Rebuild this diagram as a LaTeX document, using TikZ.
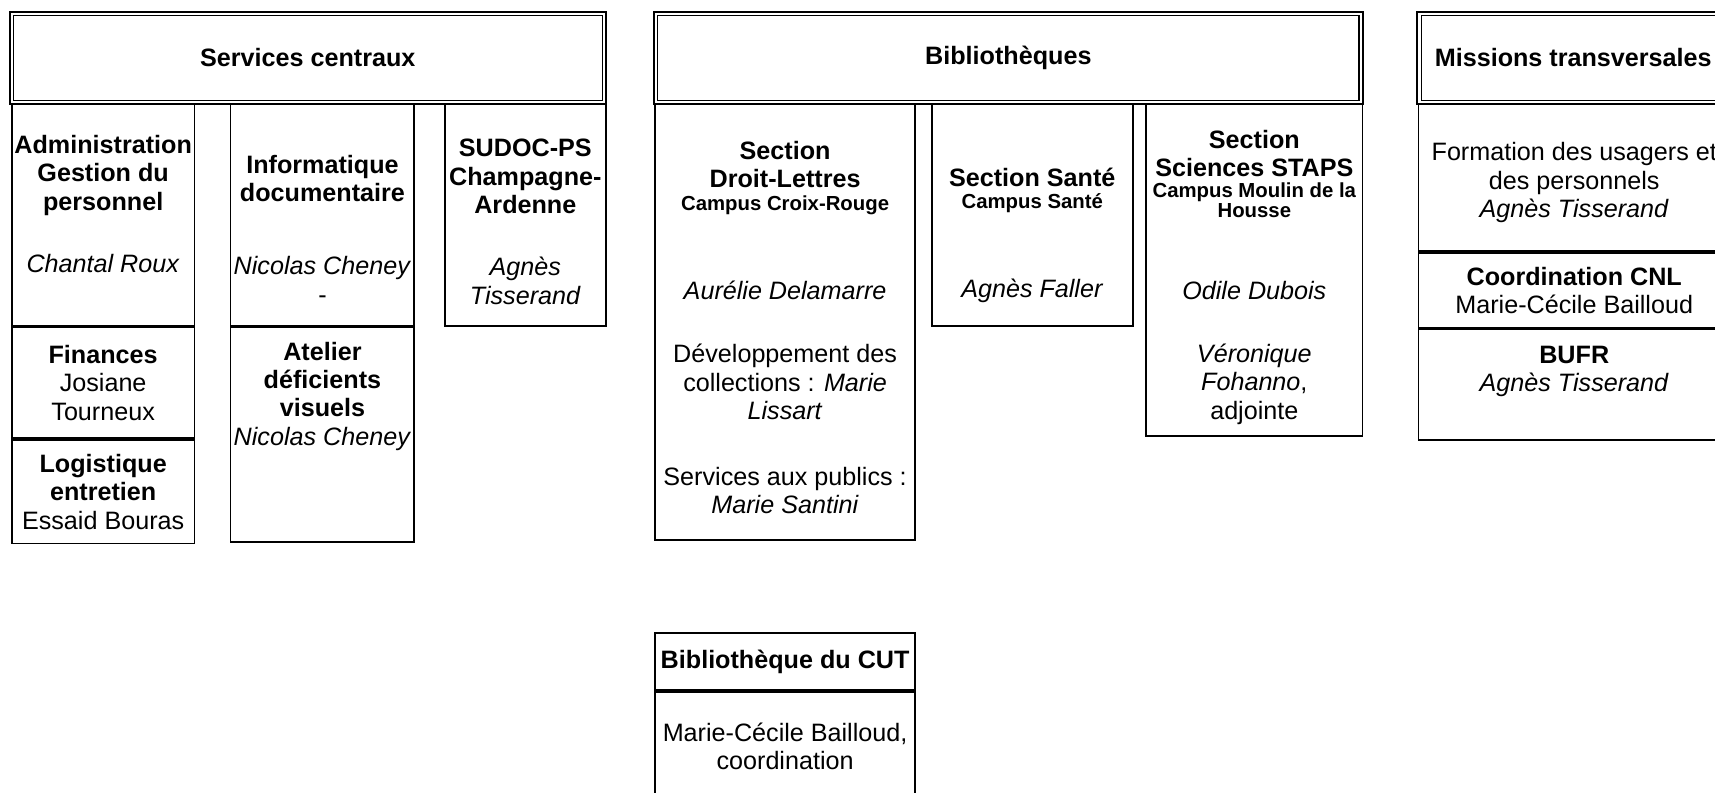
\documentclass[tikz,border=0pt]{standalone}
\usepackage{fontspec}
\setmainfont{Liberation Sans}
\usetikzlibrary{positioning}

\newcommand{\campus}[1]{{\fontsize{9.3}{10}\selectfont\bfseries #1}}
\newcommand{\padtop}[1]{\rule{0pt}{#1}}
\newcommand{\padbot}[1]{\rule[-#1]{0pt}{0pt}}

\begin{document}
\begin{tikzpicture}[
    x=0.5pt, y=-0.5pt,
    node distance=0pt,
    font=\fontsize{11.5}{13}\selectfont,
    dims/.style 2 args={minimum width=#1*0.5pt, minimum height=#2*0.5pt},
    head/.style={rectangle, draw, line width=0.9pt, anchor=north west, align=center, inner sep=0pt, font=\fontsize{11.5}{13}\selectfont\bfseries,
        path picture={\draw[line width=0.5pt] ([shift={(1.7pt,-1.7pt)}]path picture bounding box.north west) rectangle ([shift={(-1.7pt,1.7pt)}]path picture bounding box.south east);}},
    cell/.style={rectangle, draw, line width=0.8pt, anchor=north west, align=center, inner sep=0pt}
]
\useasboundingbox (0,0) rectangle (1568,725);
\clip (0,0) rectangle (1568,725);

% Headers
\node[head, dims={545}{84}] (central) at (8,10) {Services centraux};
\node[head, dims={648}{84}] (biblio) at (597,10) {Bibliothèques};
\node[head, dims={285}{84}] (missions) at (1295,10) {Missions transversales};

% Services centraux
\node[cell, dims={167}{203}] (admin) at (10,94) {\textbf{Administration}\\\textbf{Gestion du}\\\textbf{personnel}\\[15.5pt]\textit{Chantal Roux}\padbot{10pt}};
\node[cell, dims={167}{101}, below=of admin] (finances) {\textbf{Finances}\\Josiane\\Tourneux};
\node[cell, dims={167}{95}, below=of finances] (logistique) {\textbf{Logistique}\\\textbf{entretien}\\Essaid Bouras};
\node[cell, dims={168}{203}] (info) at (210,94) {\padtop{21.5pt}\textbf{Informatique}\\\textbf{documentaire}\\[20.5pt]\textit{Nicolas Cheney}\\-};
\node[cell, dims={168}{196}, below=of info] (atelier) {\textbf{Atelier}\\\textbf{déficients}\\\textbf{visuels}\\\textit{Nicolas Cheney}\padbot{37.5pt}};
\node[cell, dims={147}{203}] (sudoc) at (406,94) {\padtop{14.5pt}\textbf{SUDOC-PS}\\\textbf{Champagne-}\\\textbf{Ardenne}\\[15.5pt]\textit{Agnès}\\\textit{Tisserand}};

% Bibliotheques
\node[cell, dims={238}{399}] (droit) at (598,94) {\padtop{13.5pt}\textbf{Section}\\\textbf{Droit-Lettres}\\[-2.5pt]\campus{Campus Croix-Rouge}\\[27.5pt]\textit{Aurélie Delamarre}\\[16pt]Développement des\\collections : \textit{Marie}\\\textit{Lissart}\\[17pt]Services aux publics :\\\textit{Marie Santini}};
\node[cell, dims={184}{203}] (sante) at (851,94) {\padtop{27.5pt}\textbf{Section Santé}\\[-3pt]\campus{Campus Santé}\\[28pt]\textit{Agnès Faller}};
\node[cell, dims={198}{304}] (sciences) at (1047,94) {\padtop{15pt}\textbf{Section}\\\textbf{Sciences STAPS}\\[-3.5pt]\campus{Campus Moulin de la}\\[-4pt]\campus{Housse}\\[24.5pt]\textit{Odile Dubois}\\[16pt]\textit{Véronique}\\\textit{Fohanno}, \\adjointe};

% Missions transversales
\node[cell, dims={285}{135}] (formation) at (1296,94) {\padtop{13pt}Formation des usagers et\\des personnels\\\textit{Agnès Tisserand}};
\node[cell, dims={285}{68}, below=of formation] (cnl) {\textbf{Coordination CNL}\\Marie-Cécile Bailloud};
\node[cell, dims={285}{101}, below=of cnl] (bufr) {\textbf{BUFR}\\\textit{Agnès Tisserand}\padbot{14.5pt}};

% CUT
\node[cell, dims={238}{52}] (cut) at (598,578) {\textbf{Bibliothèque du CUT}};
\node[cell, dims={238}{100}, below=of cut] (cutresp) {Marie-Cécile Bailloud,\\coordination};

\end{tikzpicture}
\end{document}
